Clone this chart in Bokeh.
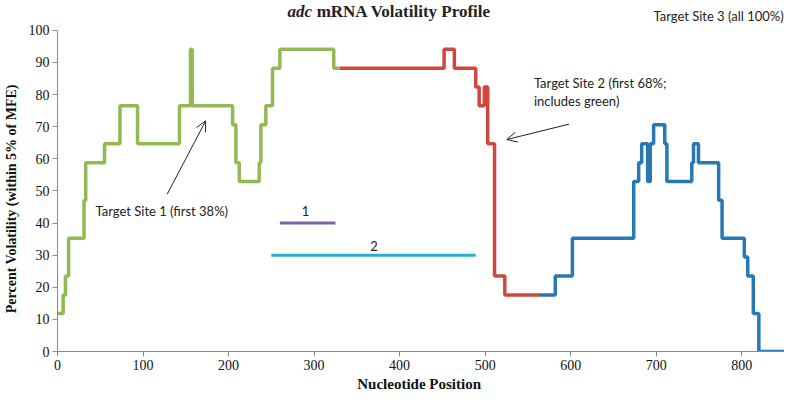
from bokeh.plotting import figure
from bokeh.models import Range1d, Label, Arrow, OpenHead, FixedTicker
from bokeh.embed import file_html
from bokeh.resources import INLINE

# Step change points (x = nucleotide position, y = percent volatility)
green_x = [0, 6.6, 9.3, 13, 31, 33, 55, 73, 93.6, 142.6, 155.5, 157.5, 204.7, 208.6,
           212.5, 235.8, 237.8, 243.6, 251.4, 260, 323, 330]
green_y = [11.8, 17.6, 23.5, 35.3, 47.1, 58.8, 64.7, 76.5, 64.7, 76.5, 94.1, 76.5, 70.6, 58.8,
           52.9, 58.8, 70.6, 76.5, 88.2, 94.1, 88.2, 88.2]

red_x = [330, 452, 464, 489, 493, 499, 503, 511, 523, 563]
red_y = [88.2, 94.1, 88.2, 82.4, 76.5, 82.4, 64.7, 23.5, 17.6, 17.6]

blue_x = [563, 582, 602, 673.7, 679.5, 683, 690, 693, 697, 710, 712.5, 741.6, 743.6, 749.4,
          773, 777, 803, 807, 813.5, 820, 859]
blue_y = [17.6, 23.5, 35.3, 52.9, 58.8, 64.7, 52.9, 64.7, 70.6, 64.7, 52.9, 58.8, 64.7, 58.8,
          47.1, 35.3, 29.4, 23.5, 11.8, 0, 0]

site1_x = [260, 325]
site1_y = [40, 40]
site2_x = [250, 489]
site2_y = [30, 30]

x_ticks = [0, 100, 200, 300, 400, 500, 600, 700, 800]
y_ticks = [0, 10, 20, 30, 40, 50, 60, 70, 80, 90, 100]

GREEN = "#93b954"
RED = "#d0473f"
BLUE = "#2878b5"
PURPLE = "#8064a2"
CYAN = "#22b2c9"
SANS = "Lato"
SERIF = "Liberation Serif"

p = figure(width=784, height=394, x_range=Range1d(0, 850), y_range=Range1d(0, 109.3),
           output_backend="svg", toolbar_location=None,
           min_border_left=49, min_border_right=0, min_border_top=0, min_border_bottom=40)
p.outline_line_color = None
p.grid.visible = False
p.background_fill_color = "white"

for ax in (p.xaxis[0], p.yaxis[0]):
    ax.axis_line_color = "#8a8a8a"
    ax.major_tick_line_color = "#8a8a8a"
    ax.minor_tick_line_color = None
    ax.major_tick_in = 0
    ax.major_tick_out = 5
    ax.major_label_text_font = SERIF
    ax.major_label_text_font_size = "14px"
    ax.major_label_text_color = "#111111"
    ax.major_label_text_line_height = 1.0
    ax.axis_label_text_font = SERIF
    ax.axis_label_text_font_style = "bold"
    ax.axis_label_text_color = "#111111"
    ax.axis_label_text_line_height = 1.0
    ax.major_label_standoff = 3
    ax.axis_label_standoff = 3

p.xaxis.axis_label_text_font_size = "15px"
p.yaxis.axis_label_text_font_size = "14px"
p.yaxis.axis_label_standoff = 7
p.yaxis.bounds = (0, 100)
p.xaxis.ticker = FixedTicker(ticks=x_ticks)
p.yaxis.ticker = FixedTicker(ticks=y_ticks)
p.xaxis.axis_label = "Nucleotide  Position"
# trailing no-break spaces shift the centred label down toward the 0-100 span
p.yaxis.axis_label = "Percent Volatility (within  5% of MFE)" + "\u00a0" * 12

p.step(green_x, green_y, mode="after", line_color=GREEN, line_width=3.5)
p.step(red_x, red_y, mode="after", line_color=RED, line_width=3.5)
p.step(blue_x, blue_y, mode="after", line_color=BLUE, line_width=3.5)
p.line(site1_x, site1_y, line_color=PURPLE, line_width=3)
p.line(site2_x, site2_y, line_color=CYAN, line_width=3)

def lab(x, y, text, align="left", baseline="middle", font=SANS, size="13px", style="normal"):
    p.add_layout(Label(x=x, y=y, text=text, text_align=align, text_baseline=baseline,
                       text_font=font, text_font_size=size, text_font_style=style,
                       text_color="#222222"))

lab(44.5, 43.8, "Target Site 1 (first 38%)")
lab(557, 83.5, "Target Site 2 (first 68%;")
lab(557, 78.1, "includes green)")
lab(849, 104.6, "Target Site 3 (all 100%)", align="right")
lab(290, 43.8, "1", align="center")
lab(370, 33.0, "2", align="center")
lab(269, 105.8, "adc", font=SERIF, size="17px", style="bold italic")
lab(303, 105.8, "mRNA Volatility Profile", font=SERIF, size="17px", style="bold")

p.add_layout(Arrow(end=OpenHead(size=10, line_color="#222222", line_width=1),
                   x_start=128.3, y_start=49.0, x_end=173.2, y_end=71.8,
                   line_color="#222222", line_width=1))
p.add_layout(Arrow(end=OpenHead(size=10, line_color="#222222", line_width=1),
                   x_start=598.2, y_start=70.8, x_end=525.3, y_end=66.0,
                   line_color="#222222", line_width=1))

open("out.html", "w").write(file_html(p, INLINE))
